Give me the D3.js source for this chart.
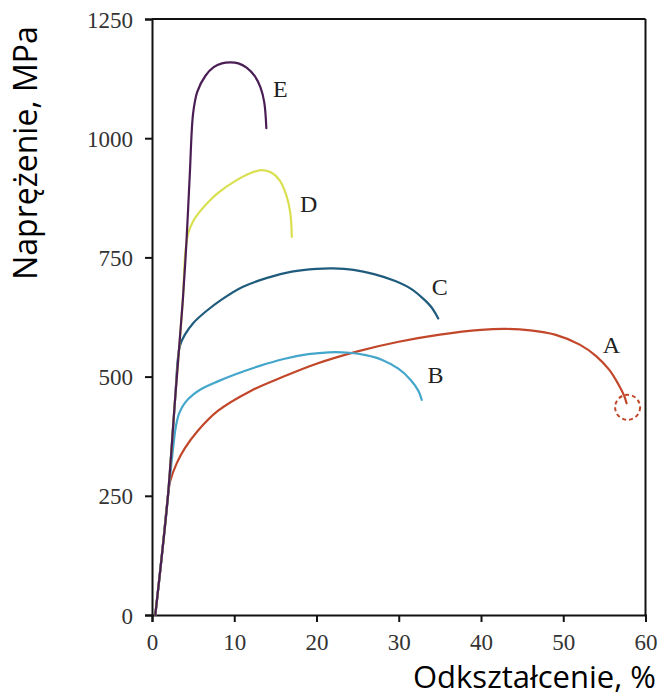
<!DOCTYPE html>
<html><head><meta charset="utf-8">
<script src="https://cdn.jsdelivr.net/npm/d3@7"></script>
<style>html,body{margin:0;padding:0;background:#fff;}svg{display:block;}</style>
</head><body>
<svg id="chart" width="664" height="696"></svg>
<script>
const xTicks = [0,10,20,30,40,50,60];
const yTicks = [0,250,500,750,1000,1250];
const xTitle = "Odkształcenie, %";
const yTitle = "Naprężenie, MPa";

const curveA = [[0.4,0],[1.2,125],[1.94,250],[2.2,280],[3,318],[4,350],[5.5,385],[8,428],[12,470],[16,500],[20,527],[25,553],[30,573],[35,588],[40,598],[43,600],[46,597],[49,588],[52,567],[54,543],[55.6,514],[56.7,484],[57.4,460],[57.7,444]];
const curveB = [[0.4,0],[1.2,125],[1.94,250],[2.5,340],[2.9,395],[3.3,423],[4,445],[5,462],[6,474],[8,490],[10,504],[13,522],[16,537],[19,547],[21.5,551],[24,550],[26,545],[28,535],[30,516],[31.5,492],[32.4,470],[32.8,451]];
const curveC = [[0.4,0],[1.2,125],[1.94,250],[2.8,451],[3.15,538],[3.4,565],[4,588],[5,612],[6.5,636],[8.5,662],[11,688],[14,707],[17,720],[20,726],[22,727],[24.5,724],[27,715],[29.5,701],[31.5,684],[33,663],[34,645],[34.8,622]];
const curveD = [[0.4,0],[1.2,125],[1.94,250],[2.8,451],[3.75,661],[4.05,760],[4.4,800],[5,826],[6,850],[7,869],[8,885],[10,909],[12,927],[13.3,933],[14.5,928],[15.5,912],[16.3,882],[16.8,845],[17,793]];
const curveE = [[0.4,0],[1.2,125],[1.94,250],[2.8,451],[3.75,661],[4.2,786],[4.6,926],[5.0,1052],[5.5,1097],[6.5,1131],[7.5,1149],[8.5,1157],[9.5,1159],[10.5,1157],[11.5,1148],[12.5,1130],[13.2,1106],[13.65,1075],[13.9,1021]];

const seriesNames = ["A","B","C","D","E"];
const seriesData = [curveA, curveB, curveC, curveD, curveE];
const seriesColors = ["#c2472a","#45a6cb","#1f5b7d","#d9e04f","#4a1e55"];
const labelPos = [[54.8,549],[33.5,487],[34.0,671],[18.0,845],[14.7,1086]];

const svg = d3.select("#chart");
const mLeft = 152, mRight = 645.5, mTop = 19, mBottom = 615;
const x = d3.scaleLinear().domain([0,60]).range([mLeft,mRight]);
const y = d3.scaleLinear().domain([0,1250]).range([mBottom,mTop]);

// frame
svg.append("line").attr("x1",mLeft).attr("x2",mRight).attr("y1",mTop).attr("y2",mTop).attr("stroke","#111").attr("stroke-width",2);
svg.append("line").attr("x1",mRight).attr("x2",mRight).attr("y1",mTop).attr("y2",mBottom).attr("stroke","#111").attr("stroke-width",2);

const xAxis = svg.append("g").attr("transform",`translate(0,${mBottom})`)
  .call(d3.axisBottom(x).tickValues(xTicks).tickSize(7).tickPadding(12).tickFormat(d3.format("d")));
const yAxis = svg.append("g").attr("transform",`translate(${mLeft},0)`)
  .call(d3.axisLeft(y).tickValues(yTicks).tickSize(7).tickPadding(12).tickFormat(d3.format("d")));
[xAxis,yAxis].forEach(a=>{
  a.select(".domain").attr("stroke","#111").attr("stroke-width",2);
  a.selectAll(".tick line").attr("stroke","#111").attr("stroke-width",2);
  a.selectAll(".tick text").attr("fill","#333").attr("font-family","'Liberation Serif', serif").attr("font-size",23);
});
yAxis.selectAll(".tick text").attr("dy","0.35em");

const line = d3.line().x(d=>x(d[0])).y(d=>y(d[1])).curve(d3.curveCatmullRom.alpha(0.5));
seriesData.forEach((s,i)=>{
  svg.append("path").datum(s).attr("d",line).attr("fill","none")
    .attr("stroke",seriesColors[i]).attr("stroke-width",2.2).attr("stroke-linecap","round");
});

// dashed circle at fracture of A
const endA = curveA[curveA.length-1];
svg.append("circle").attr("cx",x(endA[0])+1).attr("cy",y(endA[1])+4).attr("r",12.5)
  .attr("fill","none").attr("stroke","#c2472a").attr("stroke-width",2).attr("stroke-dasharray","4,3");

seriesNames.forEach((n,i)=>{
  svg.append("text").attr("x",x(labelPos[i][0])).attr("y",y(labelPos[i][1]))
    .attr("font-family","'Liberation Serif', serif").attr("font-size",24).attr("fill","#222").text(n);
});

svg.append("text").attr("x",413).attr("y",688).attr("font-family","'Open Sans', sans-serif")
  .attr("font-size",31).attr("fill","#000").text(xTitle);
svg.append("text").attr("transform","translate(37,153) rotate(-90)").attr("text-anchor","middle")
  .attr("font-family","'Open Sans', sans-serif").attr("font-size",32).attr("fill","#000").text(yTitle);
</script>
</body></html>
